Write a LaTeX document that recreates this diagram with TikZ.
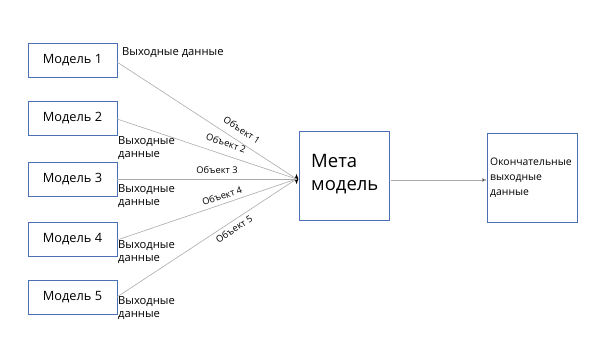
\documentclass[tikz,border=0pt]{standalone}
\usepackage{fontspec}
\setmainfont{Open Sans}
\usetikzlibrary{shapes.geometric,arrows.meta}
\definecolor{boxblue}{RGB}{74,111,181}
\definecolor{lgray}{RGB}{170,170,170}
\begin{document}
\begin{tikzpicture}[x=1pt,y=-1pt,
  mbox/.style={draw=boxblue, line width=0.8pt, minimum width=89pt, minimum height=34pt, inner sep=0pt, font=\fontsize{12.8}{15}\selectfont},
  bigbox/.style={draw=boxblue, line width=0.8pt, minimum width=90pt, minimum height=89pt, inner sep=0pt},
  outlbl/.style={anchor=north west, inner sep=0pt, align=left, font=\fontsize{11.2}{13}\selectfont},
  objlbl/.style={inner sep=0pt, font=\fontsize{9.3}{11}\selectfont},
  conn/.style={draw=lgray, line width=0.6pt}]
\useasboundingbox (0,0) rectangle (600,349);
\node[mbox] (m1) at (72.5,60) {Модель 1};
\node[mbox] (m2) at (72.5,118.5) {Модель 2};
\node[mbox] (m3) at (72.5,179.5) {Модель 3};
\node[mbox] (m4) at (72.5,239.5) {Модель 4};
\node[mbox] (m5) at (72.5,297) {Модель 5};
\node[bigbox] (meta) at (344,175.5) {};
\node[anchor=west, inner sep=0pt, align=left, font=\fontsize{18.5}{23}\selectfont] (metat) at (311,174) {Мета\\модель};
\node[bigbox] (fin) at (532,178) {};
\node[anchor=west, inner sep=0pt, align=left, font=\fontsize{10.4}{15}\selectfont] (fint) at (490,178) {Окончательные\\выходные\\данные};
\node[diamond, fill=black, minimum width=4pt, minimum height=10pt, inner sep=0pt] (j) at (296.5,179) {};
\coordinate (s1) at (117,62);
\coordinate (s2) at (117,119);
\coordinate (s3) at (117,179);
\coordinate (s4) at (117,240);
\coordinate (s5) at (117,297);
\draw[conn] (s1) -- (j.center);
\draw[conn] (s2) -- (j.center);
\draw[conn] (s3) -- (j.center);
\draw[conn] (s4) -- (j.center);
\draw[conn] (s5) -- (j.center);
\coordinate (a0) at (391,180);
\coordinate (a1) at (487,180);
\draw[conn, -{Latex[length=5pt,width=4pt,fill=black]}] (a0) -- (a1);
\node[outlbl] (o1) at (122,47) {Выходные данные};
\node[outlbl] (o2) at (118,136) {Выходные\\данные};
\node[outlbl] (o3) at (118,184) {Выходные\\данные};
\node[outlbl] (o4) at (118,240) {Выходные\\данные};
\node[outlbl] (o5) at (118,296) {Выходные\\данные};
\node[objlbl, rotate=-33] (b1) at (242,130) {Объект 1};
\node[objlbl, rotate=-18.4] (b2) at (226,143) {Объект 2};
\node[objlbl] (b3) at (217,170) {Объект 3};
\node[objlbl, rotate=18.7] (b4) at (222,196) {Объект 4};
\node[objlbl, rotate=33] (b5) at (234,229) {Объект 5};
\end{tikzpicture}
\end{document}
